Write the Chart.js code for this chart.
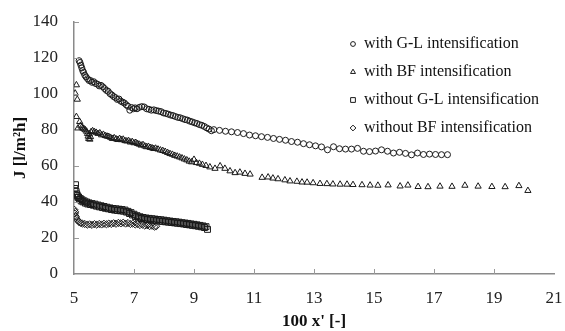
<!DOCTYPE html>
<html><head><meta charset="utf-8">
<script src="https://cdn.jsdelivr.net/npm/chart.js@4/dist/chart.umd.min.js"></script>
<style>html,body{margin:0;padding:0;background:#fff}#wrap{width:565px;height:331px}</style>
</head><body><div id="wrap"><canvas id="c" width="565" height="331"></canvas></div>
<script>
const seriesLabels = ["with G-L intensification","with BF intensification","without G-L intensification","without BF intensification"];
const xTickValues = [5,7,9,11,13,15,17,19,21];
const yTickValues = [0,20,40,60,80,100,120,140];

const glWithX = [5.17,5.2,5.23,5.26,5.29,5.32,5.36,5.4,5.45,5.5,5.55,5.6,5.66,5.72,5.78,5.84,5.9,5.96,6.02,6.08,6.14,6.2,6.26,6.32,6.38,6.44,6.5,6.56,6.62,6.68,6.74,6.8,6.86,6.92,6.98,7.04,7.1,7.18,7.26,7.34,7.42,7.5,7.58,7.66,7.74,7.82,7.9,7.98,8.06,8.14,8.22,8.3,8.38,8.46,8.54,8.62,8.7,8.78,8.86,8.94,9.02,9.1,9.18,9.26,9.34,9.42,9.5,9.58,9.66,9.85,10.05,10.25,10.45,10.65,10.85,11.05,11.25,11.45,11.65,11.85,12.05,12.25,12.45,12.65,12.85,13.05,13.25,13.45,13.65,13.85,14.05,14.25,14.45,14.65,14.85,15.05,15.25,15.45,15.65,15.85,16.05,16.25,16.45,16.65,16.85,17.05,17.25,17.45];
const glWithY = [118.5,117.5,116,114.5,113,112,110.5,109.5,108.5,107.5,107.5,106.5,106.8,105.8,105.5,104.5,104.8,104,103,102,101.5,100.2,99.5,98.6,98,97,97.2,96,95.5,95,94,93.2,91,92.5,91.8,92.3,91.8,92.6,93,92.8,91.8,91.5,91,91.2,90.8,90.5,90.2,89.5,89.2,88.8,88.3,88,87.5,87,86.8,86.3,85.8,85.5,84.9,84.5,84,83.6,83,82.6,82,81.2,80.5,79.6,80.2,79.8,79.3,79,78.6,78,77.2,76.8,76.3,75.9,75.3,74.8,74.3,73.6,73.2,72.4,71.8,71.2,70.6,69,70.7,69.6,69.4,69.4,69.8,68.2,68,68.3,69,68.2,67.2,67.6,67,66.2,67.2,66.4,66.6,66.4,66.3,66.3];

const bfWithX = [5.04,5.08,5.11,5.08,5.13,5.19,5.22,5.26,5.3,5.34,5.38,5.42,5.45,5.47,5.49,5.51,5.53,5.55,5.57,5.62,5.68,5.74,5.8,5.86,5.92,5.98,6.04,6.1,6.16,6.22,6.28,6.34,6.4,6.46,6.52,6.58,6.64,6.7,6.76,6.82,6.88,6.94,7.0,7.06,7.12,7.18,7.24,7.3,7.36,7.42,7.48,7.54,7.6,7.66,7.72,7.8,7.88,7.96,8.04,8.12,8.2,8.28,8.36,8.44,8.52,8.6,8.68,8.76,8.84,8.92,9.0,9.08,9.18,9.28,9.4,9.53,9.7,9.87,10.03,10.2,10.37,10.53,10.7,10.87,11.27,11.47,11.63,11.8,12.03,12.2,12.43,12.6,12.77,12.97,13.2,13.43,13.63,13.87,14.1,14.3,14.6,14.87,15.13,15.47,15.87,16.13,16.47,16.8,17.2,17.6,18.03,18.47,18.93,19.37,19.83,20.13];
const bfWithY = [100.4,105,97,87.4,81,84.6,82.5,81.5,81,80.5,80,79.2,78,76.5,75.2,77.8,74.8,76.2,79,79.5,79,78.6,78,78.3,77.2,77.5,76.8,76.5,76.3,75.8,75.2,75.6,75,74.6,75.2,74.5,74.8,74,73.8,74,73.2,73.5,72.8,73,72.4,72,71.5,71.8,71,70.6,70.8,70.2,70,69.6,69.8,69.3,68.8,68.5,68,67.4,66.8,66.4,65.8,65.4,64.9,64.4,63.8,63.3,62.6,62.2,63.6,61.8,61.4,60.8,60.2,59.4,58.6,60,58.6,57.2,56.2,56.5,55.8,55.4,53.6,53.8,53.2,52.8,52.2,51.6,51.4,51,50.9,50.6,50.2,50.1,49.9,49.8,49.8,49.6,49.5,49.3,49.2,49.4,48.8,49.3,48.5,48.4,48.7,48.6,49.2,48.7,48.5,48.4,49,46.3];

const glWithoutX = [5.03,5.05,5.07,5.09,5.11,5.13,5.15,5.18,5.21,5.24,5.27,5.3,5.34,5.38,5.42,5.46,5.5,5.55,5.6,5.65,5.7,5.75,5.8,5.85,5.9,5.95,6.0,6.05,6.1,6.15,6.2,6.25,6.3,6.35,6.4,6.45,6.5,6.55,6.6,6.65,6.7,6.75,6.8,6.85,6.9,6.95,7.0,7.05,7.1,7.15,7.2,7.25,7.3,7.35,7.4,7.45,7.5,7.55,7.6,7.65,7.7,7.75,7.8,7.85,7.9,7.95,8.0,8.05,8.1,8.15,8.2,8.25,8.3,8.35,8.4,8.45,8.5,8.55,8.6,8.65,8.7,8.75,8.8,8.85,8.9,8.95,9.0,9.05,9.1,9.15,9.2,9.25,9.3,9.35,9.4,9.45];
const glWithoutY = [47.5,49.6,45.8,44.5,43.6,42.6,42.8,41.4,41.9,40.6,41.2,40.1,40.6,39.4,40,38.9,39.5,38.6,39.1,38.2,38.8,37.7,38.3,37.3,37.9,36.9,37.5,36.5,37.1,36.2,36.7,35.8,36.4,35.5,36.2,35.3,36,35.1,35.8,34.9,35.5,34.4,34.8,33.6,34.1,32.8,33.2,31.9,32.4,31.2,31.8,30.8,31.4,30.5,31.1,30.2,30.9,30,30.7,29.8,30.5,29.6,30.3,29.4,30.1,29.2,29.9,29,29.6,28.8,29.4,28.6,29.2,28.4,29,28.2,28.8,28,28.5,27.8,28.3,27.5,28.1,27.3,27.8,27,27.6,26.8,27.3,26.5,27,26.2,26.7,25.8,26.3,24.8];

const bfWithoutX = [5.02,5.03,5.04,5.06,5.08,5.12,5.16,5.22,5.28,5.36,5.44,5.52,5.6,5.68,5.76,5.84,5.92,6.0,6.08,6.16,6.24,6.32,6.4,6.48,6.56,6.64,6.72,6.8,6.88,6.96,7.04,7.12,7.2,7.28,7.36,7.44,7.52,7.6,7.68,7.74];
const bfWithoutY = [35.6,33.5,34.5,32,30.9,29.8,29,28.4,28,27.8,27.4,27.6,27.3,27.7,27.4,27.8,27.5,27.9,27.6,28,27.8,28.2,27.9,28.4,28.1,28.5,28,28.3,27.8,28,27.5,27.7,27.2,27.4,26.9,27.1,26.6,26.8,26.3,26.5];

const pts = (xs, ys) => xs.map((x, i) => ({x, y: ys[i]}));
const INK = '#1a1a1a';
const SERIF = '"Liberation Serif", "Times New Roman", serif';

function mkDs(label, xs, ys, style, r) {
  return {label, data: pts(xs, ys), pointStyle: style, pointRadius: r, pointHoverRadius: r,
    pointBorderWidth: 1, borderColor: INK, pointBorderColor: INK, backgroundColor: 'rgba(0,0,0,0)',
    pointBackgroundColor: 'rgba(0,0,0,0)', showLine: false};
}

const insideTicks = {
  id: 'insideTicks',
  afterDraw(chart) {
    const {ctx, chartArea, scales: {x, y}} = chart;
    ctx.save();
    ctx.strokeStyle = '#999';
    ctx.lineWidth = 1;
    x.ticks.forEach(t => {
      if (t.value === x.min || t.value === x.max) return;
      const px = Math.round(x.getPixelForValue(t.value)) + 0.5;
      ctx.beginPath(); ctx.moveTo(px, chartArea.bottom); ctx.lineTo(px, chartArea.bottom - 5); ctx.stroke();
    });
    y.ticks.forEach(t => {
      if (t.value === y.min) return;
      const py = Math.round(y.getPixelForValue(t.value)) + 0.5;
      ctx.beginPath(); ctx.moveTo(chartArea.left, py); ctx.lineTo(chartArea.left + 5, py); ctx.stroke();
    });
    ctx.restore();
  }
};

const innerLegend = {
  id: 'innerLegend',
  afterDraw(chart) {
    const {ctx, chartArea} = chart;
    const mx = chartArea.right - 201, tx = mx + 11, y0 = chartArea.top + 22, dy = 28;
    ctx.save();
    ctx.font = '16px ' + SERIF;
    ctx.textBaseline = 'middle';
    ctx.textAlign = 'left';
    chart.data.datasets.forEach((ds, i) => {
      const yy = y0 + i * dy;
      ctx.strokeStyle = INK; ctx.fillStyle = 'rgba(0,0,0,0)'; ctx.lineWidth = 1;
      Chart.helpers.drawPoint(ctx, {pointStyle: ds.pointStyle, radius: ds.pointRadius * 0.8, borderWidth: 1, rotation: 0}, mx, yy);
      ctx.fillStyle = '#111';
      ctx.fillText(ds.label, tx, yy);
    });
    ctx.restore();
  }
};

new Chart(document.getElementById('c'), {
  type: 'scatter',
  data: {datasets: [
    mkDs(seriesLabels[0], glWithX, glWithY, 'circle', 3),
    mkDs(seriesLabels[1], bfWithX, bfWithY, 'triangle', 3.6),
    mkDs(seriesLabels[2], glWithoutX, glWithoutY, 'rect', 4.2),
    mkDs(seriesLabels[3], bfWithoutX, bfWithoutY, 'rectRot', 3.6)
  ]},
  options: {
    responsive: false, animation: false, devicePixelRatio: 1,
    layout: {padding: {top: 22, right: 11, bottom: 0, left: 0}},
    plugins: {legend: {display: false}, tooltip: {enabled: false}},
    scales: {
      x: {
        type: 'linear', min: 5, max: 21,
        afterBuildTicks: s => { s.ticks = xTickValues.map(v => ({value: v})); },
        grid: {display: false, drawTicks: false},
        border: {display: true, color: '#8a8a8a', width: 1.5},
        ticks: {padding: 14, color: '#222', font: {family: SERIF, size: 17}, maxRotation: 0, autoSkip: false},
        title: {display: true, text: "100 x' [-]", color: '#111', font: {family: SERIF, size: 17, weight: 'bold', lineHeight: 1}, padding: {top: 0, bottom: 0.5}},
        afterFit: s => { s.height = 57; s.paddingLeft = 0; s.paddingRight = 0; }
      },
      y: {
        type: 'linear', min: 0, max: 140,
        afterBuildTicks: s => { s.ticks = yTickValues.map(v => ({value: v})); },
        grid: {display: false, drawTicks: false},
        border: {display: true, color: '#8a8a8a', width: 1.5},
        ticks: {padding: 16, color: '#222', font: {family: SERIF, size: 17}},
        title: {display: true, text: 'J [l/m²h]', color: '#111', font: {family: SERIF, size: 17, weight: 'bold', lineHeight: 1}, padding: {top: 12.5, bottom: 0}},
        afterFit: s => { s.width = 74; s.paddingTop = 0; s.paddingBottom = 0; }
      }
    }
  },
  plugins: [insideTicks, innerLegend]
});
</script></body></html>
